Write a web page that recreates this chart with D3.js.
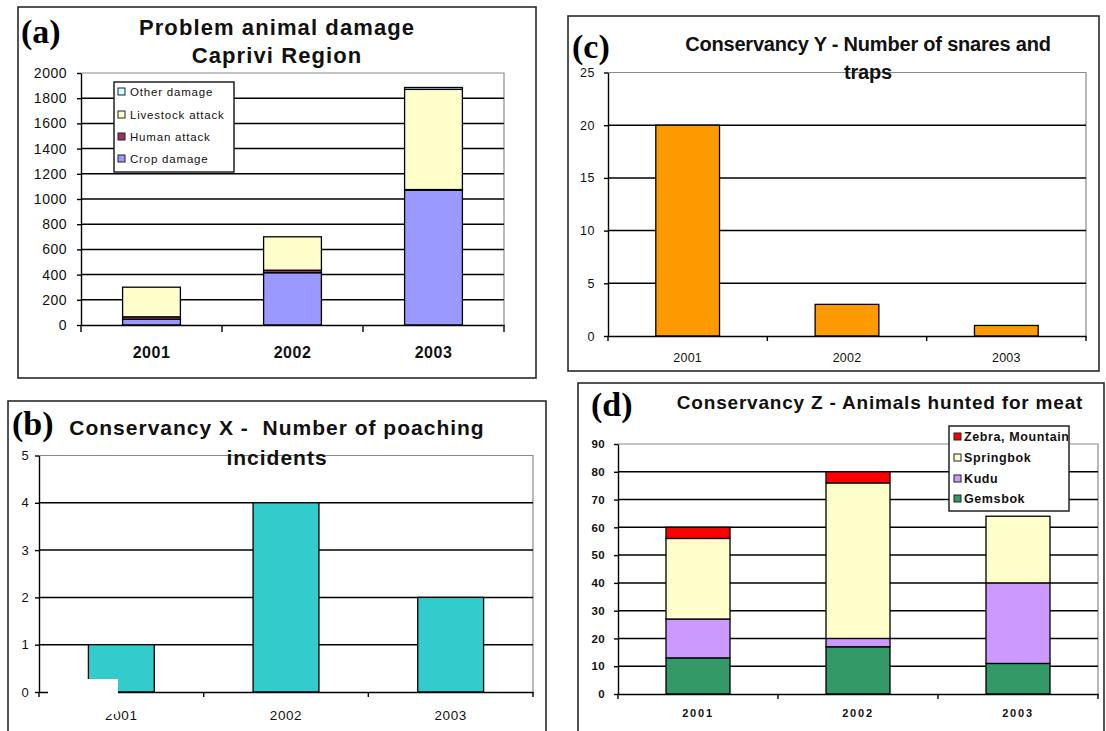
<!DOCTYPE html>
<html>
<head>
<meta charset="utf-8">
<script src="https://cdn.jsdelivr.net/npm/d3@7"></script>
<style>
  html, body { margin: 0; padding: 0; background: #fff; }
  svg { display: block; }
</style>
</head>
<body>
<svg id="chart" width="1106" height="731"></svg>
<script>
// ---- data ----
const years = ["2001", "2002", "2003"];

// (a) Problem animal damage, Caprivi Region
const damageKeys = ["Crop damage", "Human attack", "Livestock attack", "Other damage"];
const cropDamage = [45, 415, 1070];
const humanAttack = [20, 20, 5];
const livestockAttack = [235, 265, 795];
const otherDamage = [0, 0, 15];
const damageTicks = [0, 200, 400, 600, 800, 1000, 1200, 1400, 1600, 1800, 2000];

// (b) Conservancy X - poaching incidents
const poachingIncidents = [1, 4, 2];
const poachingTicks = [0, 1, 2, 3, 4, 5];

// (c) Conservancy Y - snares and traps
const snaresTraps = [20, 3, 1];
const snareTicks = [0, 5, 10, 15, 20, 25];

// (d) Conservancy Z - animals hunted for meat
const huntKeys = ["Gemsbok", "Kudu", "Springbok", "Zebra, Mountain"];
const gemsbok = [13, 17, 11];
const kudu = [14, 3, 29];
const springbok = [29, 56, 24];
const zebraMountain = [4, 4, 0];
const huntTicks = [0, 10, 20, 30, 40, 50, 60, 70, 80, 90];

// ---- drawing ----
const SANS = '"Liberation Sans", Arial, sans-serif';
const SERIF = '"Liberation Serif", "Times New Roman", serif';
const svg = d3.select("#chart");

function tableFrom(keys, columns) {
  return years.map((yr, i) => {
    const row = { year: yr };
    keys.forEach((k, j) => { row[k] = columns[j][i]; });
    return row;
  });
}

function drawPanel(p) {
  const g = svg.append("g");
  const [fx0, fy0, fx1, fy1] = p.frame;
  g.append("rect")
    .attr("x", fx0).attr("y", fy0)
    .attr("width", fx1 - fx0).attr("height", fy1 - fy0)
    .attr("fill", "#fff").attr("stroke", "#2a2a2a").attr("stroke-width", 1.6);

  const yMax = d3.max(p.ticks);
  const x = d3.scaleBand().domain(years).range([p.plot.left, p.plot.right]).padding(0);
  const y = d3.scaleLinear().domain([0, yMax]).range([p.plot.bottom, p.plot.top]);

  // plot-area outline (top and right edges)
  g.append("path")
    .attr("d", `M${p.plot.left},${y(yMax)}H${p.plot.right}V${y(0)}`)
    .attr("fill", "none").attr("stroke", "#8a8a8a").attr("stroke-width", 1.2);

  // horizontal gridlines
  g.append("g").selectAll("line")
    .data(p.ticks.filter(t => t > 0 && t < yMax))
    .join("line")
    .attr("x1", p.plot.left).attr("x2", p.plot.right)
    .attr("y1", d => y(d)).attr("y2", d => y(d))
    .attr("stroke", "#000").attr("stroke-width", 1.5);

  // stacked bars
  const rows = tableFrom(p.keys, p.columns);
  const series = d3.stack().keys(p.keys)(rows);
  const bw = x.bandwidth() * p.barFrac;
  const off = (x.bandwidth() - bw) / 2;
  g.append("g").selectAll("g")
    .data(series)
    .join("g")
    .attr("fill", (d, i) => p.colors[i])
    .selectAll("rect")
    .data(d => d.filter(s => s[1] - s[0] > 0))
    .join("rect")
    .attr("x", d => x(d.data.year) + off)
    .attr("width", bw)
    .attr("y", d => y(d[1]))
    .attr("height", d => y(d[0]) - y(d[1]))
    .attr("stroke", "#000").attr("stroke-width", 1.3);

  // y axis
  const ya = g.append("g")
    .attr("transform", `translate(${p.plot.left},0)`)
    .call(d3.axisLeft(y).tickValues(p.ticks).tickSize(4).tickSizeOuter(0)
      .tickPadding(p.yPad).tickFormat(d3.format("d")));
  ya.select(".domain").attr("stroke", "#000").attr("stroke-width", 1.4);
  ya.selectAll(".tick line").attr("stroke", "#000").attr("stroke-width", 1.4);
  ya.selectAll(".tick text")
    .attr("font-family", SANS).attr("font-size", p.yFont)
    .attr("font-weight", p.yWeight || "normal")
    .attr("letter-spacing", p.yLs || 0).attr("fill", "#111");

  // x axis: category labels and boundary ticks
  const xa = g.append("g")
    .attr("transform", `translate(0,${p.plot.bottom})`)
    .call(d3.axisBottom(x).tickSize(0).tickSizeOuter(0).tickPadding(p.xPad));
  xa.select(".domain").attr("stroke", "#000").attr("stroke-width", 1.4);
  xa.selectAll(".tick text")
    .attr("font-family", SANS).attr("font-size", p.xFont)
    .attr("font-weight", p.xWeight || "normal")
    .attr("letter-spacing", p.xLs || 0).attr("fill", "#111");
  const bounds = years.map(d => x(d)).concat([x(years[years.length - 1]) + x.bandwidth()]);
  xa.selectAll("line.bound").data(bounds).join("line")
    .attr("class", "bound")
    .attr("x1", d => d).attr("x2", d => d)
    .attr("y1", 0).attr("y2", p.xTick)
    .attr("stroke", "#000").attr("stroke-width", 1.4);

  // title
  g.append("g").selectAll("text")
    .data(p.title)
    .join("text")
    .attr("x", p.titleX)
    .attr("y", (d, i) => p.titleY[i])
    .attr("text-anchor", "middle")
    .attr("font-family", SANS).attr("font-weight", "bold")
    .attr("font-size", p.titleFont).attr("letter-spacing", p.titleLs)
    .attr("fill", "#111")
    .style("white-space", "pre")
    .text(d => d);

  // panel letter
  g.append("text")
    .attr("x", p.tag[1]).attr("y", p.tag[2])
    .attr("font-family", SERIF).attr("font-weight", "bold")
    .attr("font-size", 34).attr("fill", "#000")
    .text(p.tag[0]);

  // legend (entries listed top-down in reverse stacking order)
  if (p.legend) {
    const L = p.legend;
    const lg = g.append("g");
    const clipId = "clip-" + p.tag[0].replace(/[()]/g, "");
    lg.append("clipPath").attr("id", clipId)
      .append("rect").attr("x", L.box[0]).attr("y", L.box[1])
      .attr("width", L.box[2] - L.box[0] - 1).attr("height", L.box[3] - L.box[1]);
    lg.append("rect")
      .attr("x", L.box[0]).attr("y", L.box[1])
      .attr("width", L.box[2] - L.box[0]).attr("height", L.box[3] - L.box[1])
      .attr("fill", "#fff").attr("stroke", "#222").attr("stroke-width", 1.5);
    const order = p.keys.map((k, i) => ({ key: k, color: p.colors[i] })).reverse();
    const inner = lg.append("g").attr("clip-path", `url(#${clipId})`);
    inner.selectAll("rect.swatch").data(order).join("rect")
      .attr("class", "swatch")
      .attr("x", L.swatchX).attr("y", (d, i) => L.rows[i] - 4)
      .attr("width", 7).attr("height", 7)
      .attr("fill", d => d.color).attr("stroke", "#222").attr("stroke-width", 1);
    inner.selectAll("text").data(order).join("text")
      .attr("x", L.textX).attr("y", (d, i) => L.rows[i] + 4)
      .attr("font-family", SANS).attr("font-size", L.font)
      .attr("font-weight", L.weight || "normal")
      .attr("letter-spacing", L.ls).attr("fill", "#111")
      .text(d => d.key);
  }
  return g;
}

// (a)
drawPanel({
  frame: [18, 7, 536, 378],
  plot: { left: 81, right: 504, top: 73, bottom: 325 },
  ticks: damageTicks,
  keys: damageKeys,
  columns: [cropDamage, humanAttack, livestockAttack, otherDamage],
  colors: ["#9999FF", "#993366", "#FFFFCC", "#CCFFFF"],
  barFrac: 0.41,
  yPad: 10, yFont: 14, yLs: 0.5,
  xPad: 22, xFont: 16, xWeight: "bold", xLs: 0.5, xTick: 7,
  title: ["Problem animal damage", "Caprivi Region"],
  titleX: 277, titleY: [35, 63], titleFont: 22, titleLs: 1.1,
  tag: ["(a)", 21, 43],
  legend: {
    box: [114, 82, 234, 172], rows: [92, 115, 137, 159],
    swatchX: 118, textX: 130, font: 11.5, ls: 0.8
  }
});

// (c)
drawPanel({
  frame: [568, 16, 1099, 371],
  plot: { left: 608, right: 1086, top: 72.5, bottom: 336 },
  ticks: snareTicks,
  keys: ["value"],
  columns: [snaresTraps],
  colors: ["#FF9900"],
  barFrac: 0.40,
  yPad: 9, yFont: 12.5, yLs: 0.6,
  xPad: 17, xFont: 12.5, xLs: 0.2, xTick: 5,
  title: ["Conservancy Y - Number of snares and", "traps"],
  titleX: 868, titleY: [51, 79], titleFont: 20, titleLs: -0.2,
  tag: ["(c)", 572, 58]
});

// (b)
const panelB = drawPanel({
  frame: [8, 401, 546, 745],
  plot: { left: 39, right: 533, top: 455.5, bottom: 692 },
  ticks: poachingTicks,
  keys: ["value"],
  columns: [poachingIncidents],
  colors: ["#33CCCC"],
  barFrac: 0.40,
  yPad: 6, yFont: 13, yLs: 0.3,
  xPad: 18, xFont: 13.5, xLs: 0.6, xTick: 5,
  title: ["Conservancy X -  Number of poaching", "incidents"],
  titleX: 277, titleY: [434.5, 464.5], titleFont: 21, titleLs: 1,
  tag: ["(b)", 12, 435]
});
// blank patch over the lower-left corner of the plot
panelB.append("rect")
  .attr("x", 48).attr("y", 679).attr("width", 70).attr("height", 35)
  .attr("fill", "#fff");

// (d)
drawPanel({
  frame: [578, 383, 1104, 745],
  plot: { left: 618, right: 1098, top: 444, bottom: 694 },
  ticks: huntTicks,
  keys: huntKeys,
  columns: [gemsbok, kudu, springbok, zebraMountain],
  colors: ["#339966", "#CC99FF", "#FFFFCC", "#FF0000"],
  barFrac: 0.40,
  yPad: 9, yFont: 11.5, yWeight: "bold", yLs: 0.4,
  xPad: 15, xFont: 11, xWeight: "bold", xLs: 1.8, xTick: 5,
  title: ["Conservancy Z - Animals hunted for meat"],
  titleX: 880, titleY: [409], titleFont: 19, titleLs: 0.8,
  tag: ["(d)", 591, 416],
  legend: {
    box: [949, 426, 1069, 511], rows: [437, 458, 479, 499],
    swatchX: 954, textX: 964, font: 12.5, weight: "bold", ls: 0.6
  }
});
</script>
</body>
</html>
